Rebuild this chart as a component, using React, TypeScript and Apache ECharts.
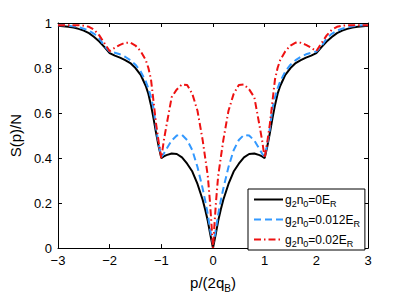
import React, { useEffect, useRef } from "react";
import * as echarts from "echarts";

const pValues = [
  -3.0, -2.9, -2.8, -2.7, -2.6, -2.5, -2.4, -2.3, -2.2, -2.1, -2.0, -1.9, -1.8, -1.7, -1.6, -1.5, -1.4, -1.3, -1.25,
  -1.2, -1.15, -1.1, -1.05, -1.0, -0.95, -0.9, -0.8, -0.7, -0.6, -0.5, -0.4, -0.3, -0.2, -0.15, -0.1, -0.06, -0.03,
  0, 0.03, 0.06, 0.1, 0.15, 0.2, 0.3, 0.4, 0.5, 0.6, 0.7, 0.8, 0.9, 0.95, 1.0, 1.05, 1.1, 1.15, 1.2, 1.25, 1.3, 1.4,
  1.5, 1.6, 1.7, 1.8, 1.9, 2.0, 2.1, 2.2, 2.3, 2.4, 2.5, 2.6, 2.7, 2.8, 2.9, 3.0,
];

const sBlack = [
  0.988, 0.986, 0.983, 0.98, 0.974, 0.966, 0.955, 0.938, 0.918, 0.893, 0.866, 0.855, 0.846, 0.835, 0.822, 0.8, 0.77,
  0.72, 0.685, 0.635, 0.575, 0.51, 0.45, 0.4, 0.407, 0.413, 0.42, 0.418, 0.403, 0.375, 0.34, 0.285, 0.215, 0.17, 0.12,
  0.07, 0.035,
  0, 0.035, 0.07, 0.12, 0.17, 0.215, 0.285, 0.34, 0.375, 0.403, 0.418, 0.42, 0.413, 0.407, 0.4, 0.45, 0.51, 0.575,
  0.635, 0.685, 0.72, 0.77, 0.8, 0.822, 0.835, 0.846, 0.855, 0.866, 0.893, 0.918, 0.938, 0.955, 0.966, 0.974, 0.98,
  0.983, 0.986, 0.988,
];

const sBlue = [
  0.99, 0.99, 0.988, 0.985, 0.981, 0.975, 0.966, 0.952, 0.932, 0.897, 0.873, 0.868, 0.861, 0.85, 0.835, 0.815, 0.785,
  0.74, 0.71, 0.67, 0.62, 0.53, 0.46, 0.405, 0.42, 0.44, 0.478, 0.5, 0.503, 0.48, 0.435, 0.36, 0.265, 0.21, 0.15, 0.09,
  0.05,
  0.02, 0.05, 0.09, 0.15, 0.21, 0.265, 0.36, 0.435, 0.48, 0.503, 0.5, 0.478, 0.44, 0.42, 0.405, 0.46, 0.53, 0.62, 0.67,
  0.71, 0.74, 0.785, 0.815, 0.835, 0.85, 0.861, 0.868, 0.873, 0.897, 0.932, 0.952, 0.966, 0.975, 0.981, 0.985, 0.988,
  0.99, 0.99,
];

const sRed = [
  0.99, 0.99, 0.99, 0.99, 0.99, 0.988, 0.983, 0.97, 0.945, 0.91, 0.875, 0.89, 0.903, 0.912, 0.913, 0.9, 0.875, 0.835,
  0.8, 0.75, 0.65, 0.55, 0.47, 0.4, 0.48, 0.545, 0.67, 0.705, 0.727, 0.725, 0.685, 0.61, 0.48, 0.4, 0.32, 0.21, 0.11,
  0, 0.11, 0.21, 0.32, 0.4, 0.48, 0.61, 0.685, 0.725, 0.727, 0.705, 0.67, 0.545, 0.48, 0.4, 0.47, 0.55, 0.65, 0.75,
  0.8, 0.835, 0.875, 0.9, 0.913, 0.912, 0.903, 0.89, 0.875, 0.91, 0.945, 0.97, 0.983, 0.988, 0.99, 0.99, 0.99, 0.99,
  0.99,
];

const seriesNames = ["g2n0=0ER", "g2n0=0.012ER", "g2n0=0.02ER"];
const legendLabels = [
  "{n|g}{s|2}{n|n}{s|0}{n|=0E}{s|R}",
  "{n|g}{s|2}{n|n}{s|0}{n|=0.012E}{s|R}",
  "{n|g}{s|2}{n|n}{s|0}{n|=0.02E}{s|R}",
];
const xAxisTitle = "{n|p/(2q}{s|B}{n|)}";
const yAxisTitle = "S(p)/N";

const FONT = "Liberation Sans, Arial, Helvetica, sans-serif";

function pairs(ys: number[]) {
  return pValues.map((p, i) => [p, ys[i]]);
}

export default function App() {
  const ref = useRef<HTMLDivElement>(null);
  useEffect(() => {
    if (!ref.current) return;
    const chart = echarts.init(ref.current, null, { renderer: "svg" });
    const tickAxisCommon = {
      axisLine: { show: true, onZero: false, lineStyle: { color: "#000", width: 1 } },
      axisTick: { show: true, inside: true, length: 4, lineStyle: { color: "#000", width: 1 } },
      splitLine: { show: false },
    };
    const option: any = {
      animation: false,
      backgroundColor: "#fff",
      grid: { left: 52, right: 38, top: 23, bottom: 43, containLabel: false },
      xAxis: [
        {
          type: "value",
          min: -3,
          max: 3,
          interval: 1,
          position: "bottom",
          ...tickAxisCommon,
          axisLabel: {
            fontSize: 13,
            color: "#000",
            fontFamily: FONT,
            margin: 6,
            formatter: (v: number) => (v < 0 ? "\u2212" + Math.abs(v) : String(v)),
          },
          name: xAxisTitle,
          nameLocation: "middle",
          nameGap: 19,
          nameTextStyle: {
            color: "#000",
            fontFamily: FONT,
            fontSize: 15,
            rich: {
              n: { fontSize: 15, lineHeight: 16, fontFamily: FONT, color: "#000" },
              s: { fontSize: 10, lineHeight: 10, padding: [11, 0, 0, 0], fontFamily: FONT, color: "#000" },
            },
          },
        },
        {
          type: "value",
          min: -3,
          max: 3,
          interval: 1,
          position: "top",
          ...tickAxisCommon,
          axisLabel: { show: false },
        },
      ],
      yAxis: [
        {
          type: "value",
          min: 0,
          max: 1,
          interval: 0.2,
          position: "left",
          ...tickAxisCommon,
          axisLabel: { fontSize: 13, color: "#000", fontFamily: FONT, margin: 6 },
          name: yAxisTitle,
          nameLocation: "middle",
          nameGap: 28,
          nameTextStyle: { color: "#000", fontFamily: FONT, fontSize: 15 },
        },
        {
          type: "value",
          min: 0,
          max: 1,
          interval: 0.2,
          position: "right",
          ...tickAxisCommon,
          axisLabel: { show: false },
        },
      ],
      legend: {
        orient: "vertical",
        left: 248,
        top: 189,
        padding: [2, 5, 2, 5],
        itemGap: 3,
        itemWidth: 29,
        itemHeight: 12,
        borderColor: "#000",
        borderWidth: 1,
        borderRadius: 0,
        backgroundColor: "#fff",
        itemStyle: { opacity: 0 },
        data: seriesNames,
        formatter: (name: string) => legendLabels[seriesNames.indexOf(name)],
        textStyle: {
          fontFamily: FONT,
          fontSize: 12,
          color: "#000",
          padding: [0, 0, 0, -3],
          rich: {
            n: { fontSize: 12, lineHeight: 13, fontFamily: FONT, color: "#000" },
            s: { fontSize: 9, lineHeight: 9, padding: [8, 0, 0, 0], fontFamily: FONT, color: "#000" },
          },
        },
      },
      series: [
        {
          name: seriesNames[0],
          type: "line",
          data: pairs(sBlack),
          showSymbol: false,
          symbol: "none",
          lineStyle: { color: "#000", width: 2, type: "solid" },
          itemStyle: { color: "#000" },
          z: 3,
        },
        {
          name: seriesNames[1],
          type: "line",
          data: pairs(sBlue),
          showSymbol: false,
          symbol: "none",
          lineStyle: { color: "#3399ff", width: 2, type: [7, 4] },
          itemStyle: { color: "#3399ff" },
          z: 4,
        },
        {
          name: seriesNames[2],
          type: "line",
          data: pairs(sRed),
          showSymbol: false,
          symbol: "none",
          lineStyle: { color: "#ee1111", width: 2, type: [7, 3, 1.5, 3] },
          itemStyle: { color: "#ee1111" },
          z: 5,
        },
      ],
    };
    chart.setOption(option);
    return () => chart.dispose();
  }, []);
  return (
    <div
      ref={ref}
      style={{ position: "fixed", left: 0, top: 0, width: 406, height: 298, background: "#fff" }}
    />
  );
}
